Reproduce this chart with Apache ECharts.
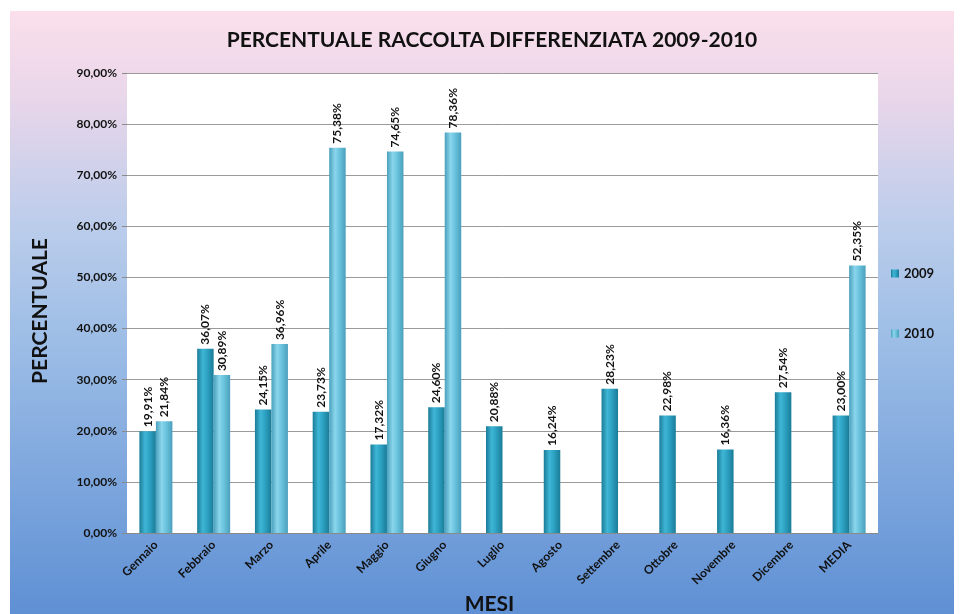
<!DOCTYPE html>
<html><head><meta charset="utf-8">
<script src="https://cdn.jsdelivr.net/npm/echarts@6/dist/echarts.min.js"></script>
<style>html,body{margin:0;padding:0;background:#fff;}#c{width:960px;height:614px;}</style>
</head><body><div id="c"></div>
<script>
const categories = ['Gennaio','Febbraio','Marzo','Aprile','Maggio','Giugno','Luglio','Agosto','Settembre','Ottobre','Novembre','Dicembre','MEDIA'];
const values2009 = [19.91,36.07,24.15,23.73,17.32,24.60,20.88,16.24,28.23,22.98,16.36,27.54,23.00];
const values2010 = [21.84,30.89,36.96,75.38,74.65,78.36,null,null,null,null,null,null,52.35];
const yTicks = [0,10,20,30,40,50,60,70,80,90];

const fmt = v => v.toFixed(2).replace('.', ',') + '%';
const font = 'Lato, "Open Sans", sans-serif';
const chart = echarts.init(document.getElementById('c'));

function grad(edge, mid, light) {
  return new echarts.graphic.LinearGradient(0,0,1,0,[
    {offset:0,color:edge},{offset:0.35,color:light},{offset:0.6,color:mid},{offset:1,color:edge}
  ]);
}
const label = {
  show:true, position:'top', rotate:90, distance:4, align:'left', verticalAlign:'middle',
  fontFamily:font, fontWeight:'bold', fontSize:12, color:'#111',
  formatter: p => p.value == null ? '' : fmt(p.value)
};

chart.setOption({
  animation:false,
  graphic:[{
    type:'rect', left:10, top:11, z:-10,
    shape:{width:944, height:603},
    style:{fill:new echarts.graphic.LinearGradient(0,0,0,1,[
      {offset:0,color:'#fbdfeb'},{offset:0.15,color:'#e8d6ea'},{offset:0.35,color:'#bccdeb'},
      {offset:0.55,color:'#9cbde6'},{offset:1,color:'#5f90d4'}])}
  },{
    type:'text', x:40, y:311, rotation:Math.PI/2, z:10,
    style:{text:'PERCENTUALE', fontFamily:font, fontWeight:'bold', fontSize:21, fill:'#111',
      textAlign:'center', textVerticalAlign:'middle'}
  }],
  title:{
    text:'PERCENTUALE RACCOLTA DIFFERENZIATA 2009-2010', left:487, top:25, textAlign:'center',
    textStyle:{fontFamily:font, fontWeight:'bold', fontSize:21, color:'#111'}
  },
  legend:{
    orient:'vertical', left:886, top:262, itemGap:47, itemWidth:8, itemHeight:8,
    icon:'rect',
    textStyle:{fontFamily:font, fontWeight:'bold', fontSize:13, color:'#111'},
    data:['2009','2010']
  },
  grid:{left:127, right:82, top:73, bottom:81, show:true, backgroundColor:'#ffffff', borderWidth:0,
    containLabel:false, outerBoundsMode:'none'},
  xAxis:{
    type:'category', data:categories,
    name:'MESI', nameLocation:'middle', nameGap:60,
    nameTextStyle:{fontFamily:font, fontWeight:'bold', fontSize:21, color:'#111', verticalAlign:'top', padding:[0,26,0,0]},
    axisLine:{lineStyle:{color:'#8a8a8a', width:1}}, axisTick:{show:false},
    axisLabel:{rotate:45, interval:0, fontFamily:font, fontWeight:'bold', fontSize:12, color:'#111', margin:10}
  },
  yAxis:{
    type:'value', min:0, max:90, interval:10,
    axisLine:{show:false}, axisTick:{show:true, length:5, lineStyle:{color:'#8a8a8a'}},
    splitLine:{lineStyle:{color:'#9a9a9a', width:1}},
    axisLabel:{fontFamily:font, fontWeight:'bold', fontSize:12, color:'#111', margin:10,
      formatter: v => yTicks.includes(v) ? fmt(v) : ''}
  },
  series:[
    {name:'2009', type:'bar', data:values2009, barWidth:16.5, barGap:'0%',
     itemStyle:{color:grad('#1a7c98','#2ea3c4','#3fb6d6')}, label:label},
    {name:'2010', type:'bar', data:values2010, barWidth:16.5, barGap:'0%',
     itemStyle:{color:grad('#4aa0bc','#6cc4de','#8ad6ec')}, label:label}
  ]
});
</script></body></html>
